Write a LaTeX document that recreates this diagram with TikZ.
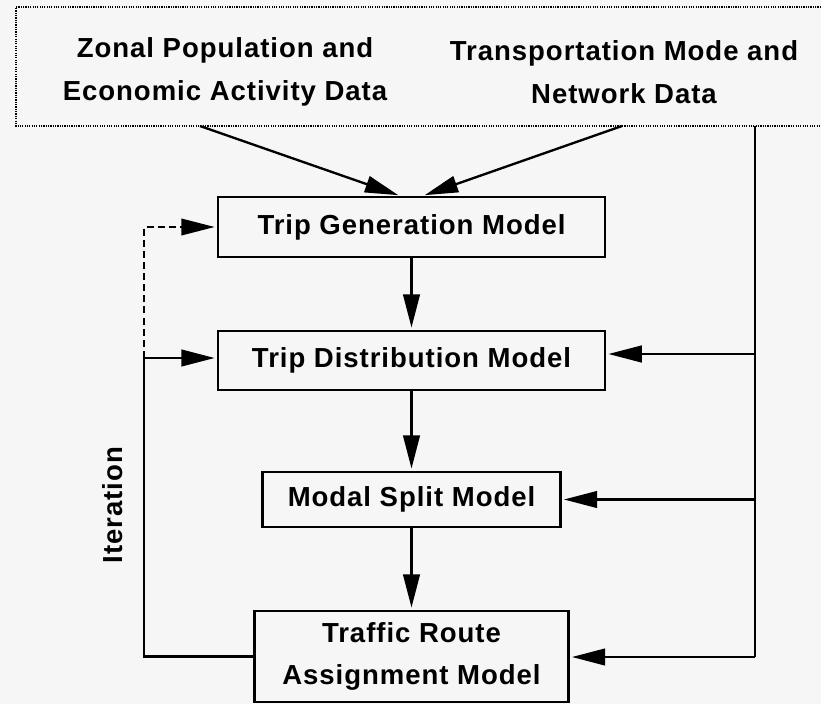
\documentclass[tikz,border=0pt]{standalone}
\usepackage{fontspec}
\setmainfont{Liberation Sans}[LetterSpace=3.5]
\usetikzlibrary{arrows.meta,calc}
\definecolor{paper}{RGB}{246,246,246}

\begin{document}
\begin{tikzpicture}[x=0.03cm,y=-0.03cm,
    lbl/.style={font=\fontsize{23.5}{36.5}\selectfont\bfseries,align=center},
    model/.style={lbl,draw,line width=1.8pt,inner sep=0pt},
    line/.style={line width=2pt},
    flow/.style={line,-{Triangle[length=1cm,width=0.5cm]},shorten >=2pt},
    frame/.style={line width=1.3pt,dash pattern=on 1pt off 1pt}]
\useasboundingbox (0,0) rectangle (821,704);
\fill[paper] (0,0) rectangle (821,704);

\draw[frame] (821,7) -| (16,126) -- (821,126);
\node[lbl] (zonal) at (225,72) {Zonal Population and\\Economic Activity Data};
\node[lbl] (network) at (624,72) {Transportation Mode and\\Network Data};

\node[model,minimum width=11.61cm,minimum height=1.8cm] (tripgen) at (411.5,227) {Trip Generation Model};
\node[model,minimum width=11.61cm,minimum height=1.77cm] (tripdist) at (411.5,360.5) {Trip Distribution Model};
\node[model,minimum width=8.94cm,minimum height=1.65cm] (modal) at (411.5,499.5) {Modal Split Model};
\node[model,minimum width=9.42cm,minimum height=2.73cm] (traffic) at (411.5,656.5) {Traffic Route\\Assignment Model};
\node[lbl,rotate=90] (iter) at (113,505) {Iteration};

\coordinate (zonalout) at (200,126);
\coordinate (netout) at (622,126);
\coordinate (feed) at (755,126);
\coordinate (feeddist) at (755,354);
\coordinate (feedmodal) at (755,499.5);
\coordinate (feedend) at (755,657);
\coordinate (loop) at (144,358);

\draw[flow] (zonalout) -- ($(tripgen.north)+(-11,0)$);
\draw[flow] (netout) -- ($(tripgen.north)+(11,0)$);
\draw[flow] (tripgen) -- (tripdist);
\draw[flow] (tripdist) -- (modal);
\draw[flow] (modal) -- (traffic);

\draw[line] (feed) -- (feedend);
\draw[flow] (feeddist) -- (feeddist -| tripdist.east);
\draw[flow] (feedmodal) -- (feedmodal -| modal.east);
\draw[flow] (feedend) -- (feedend -| traffic.east);

\draw[flow] (traffic.west) -| (loop) -- (loop -| tripdist.west);
\draw[flow,line width=1.5pt,dash pattern=on 6pt off 3.5pt] (loop) |- (tripgen.west);
\end{tikzpicture}
\end{document}
